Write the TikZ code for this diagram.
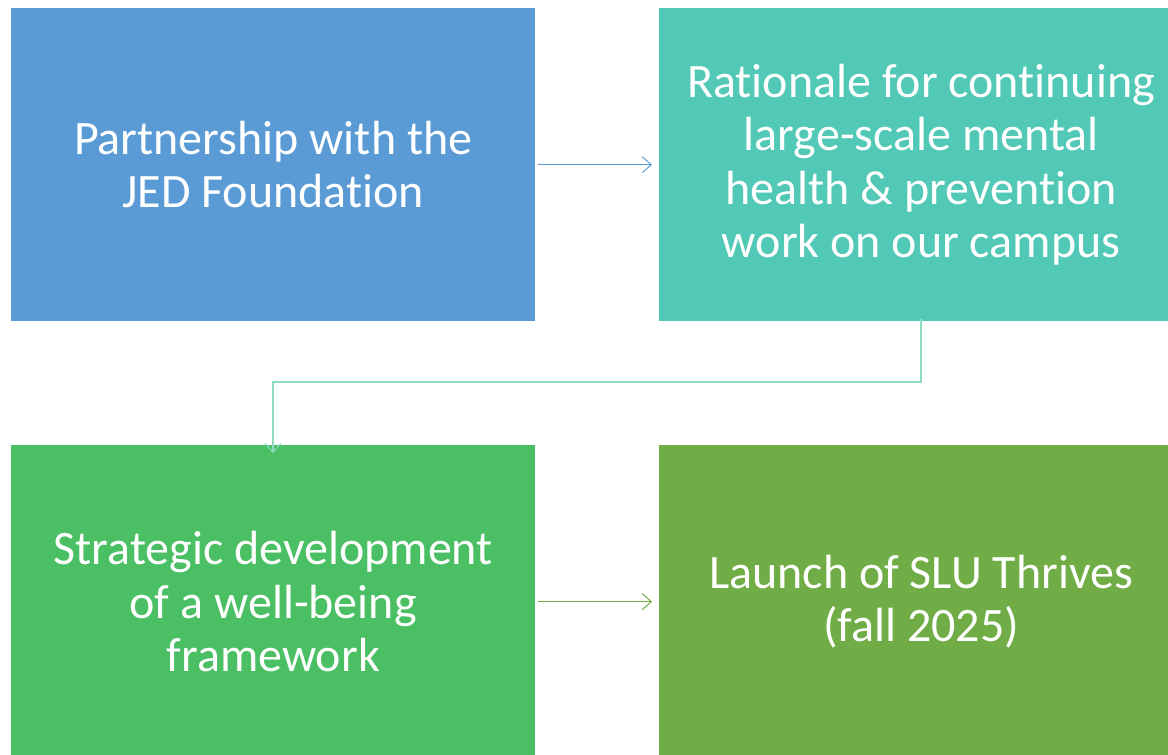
\documentclass[tikz,border=0pt]{standalone}
\usepackage{fontspec}
\setmainfont[Ligatures=NoCommon]{Carlito}
\usetikzlibrary{arrows.meta}
\definecolor{cblue}{HTML}{5B9BD5}
\definecolor{cteal}{HTML}{52C9B6}
\definecolor{cgreen}{HTML}{4ABF63}
\definecolor{colive}{HTML}{70AD47}
\definecolor{lteal}{HTML}{8FDCC0}
\begin{document}
\begin{tikzpicture}[x=1pt,y=-1pt,
  stepbox/.style={draw=none,minimum width=524pt,minimum height=313pt,inner sep=0pt,
    text=white,align=center,anchor=north west,font=\fontsize{48}{53.5}\selectfont},
  conn/.style={line width=1.2pt,-{Straight Barb[length=9pt,width=16pt,line width=1pt]}}]
\useasboundingbox (0,0) rectangle (1168,755);
\fill[white] (0,0) rectangle (1168,755);
\node[stepbox,fill=cblue] (a) at (11,8) {Partnership with the\\JED Foundation};
\node[stepbox,fill=cteal] (b) at (659,8) {Rationale for continuing\\large-scale mental\\health \& prevention\\work on our campus};
\node[stepbox,fill=cgreen] (c) at (11,445) {Strategic development\\of a well-being\\framework};
\node[stepbox,fill=colive] (d) at (659,445) {Launch of SLU Thrives\\(fall 2025)};
\coordinate (bend1) at (921,382);
\coordinate (bend2) at (273,382);
\draw[conn,draw=cblue] ([xshift=3pt]a.east) -- ([xshift=-7pt]b.west);
\draw[conn,draw=lteal] ([yshift=2pt]b.south -| bend1) -- (bend1) -- (bend2) -- ([yshift=-8pt]c.north -| bend2);
\draw[conn,draw=colive] ([xshift=3pt]c.east) -- ([xshift=-7pt]d.west);
\end{tikzpicture}
\end{document}
